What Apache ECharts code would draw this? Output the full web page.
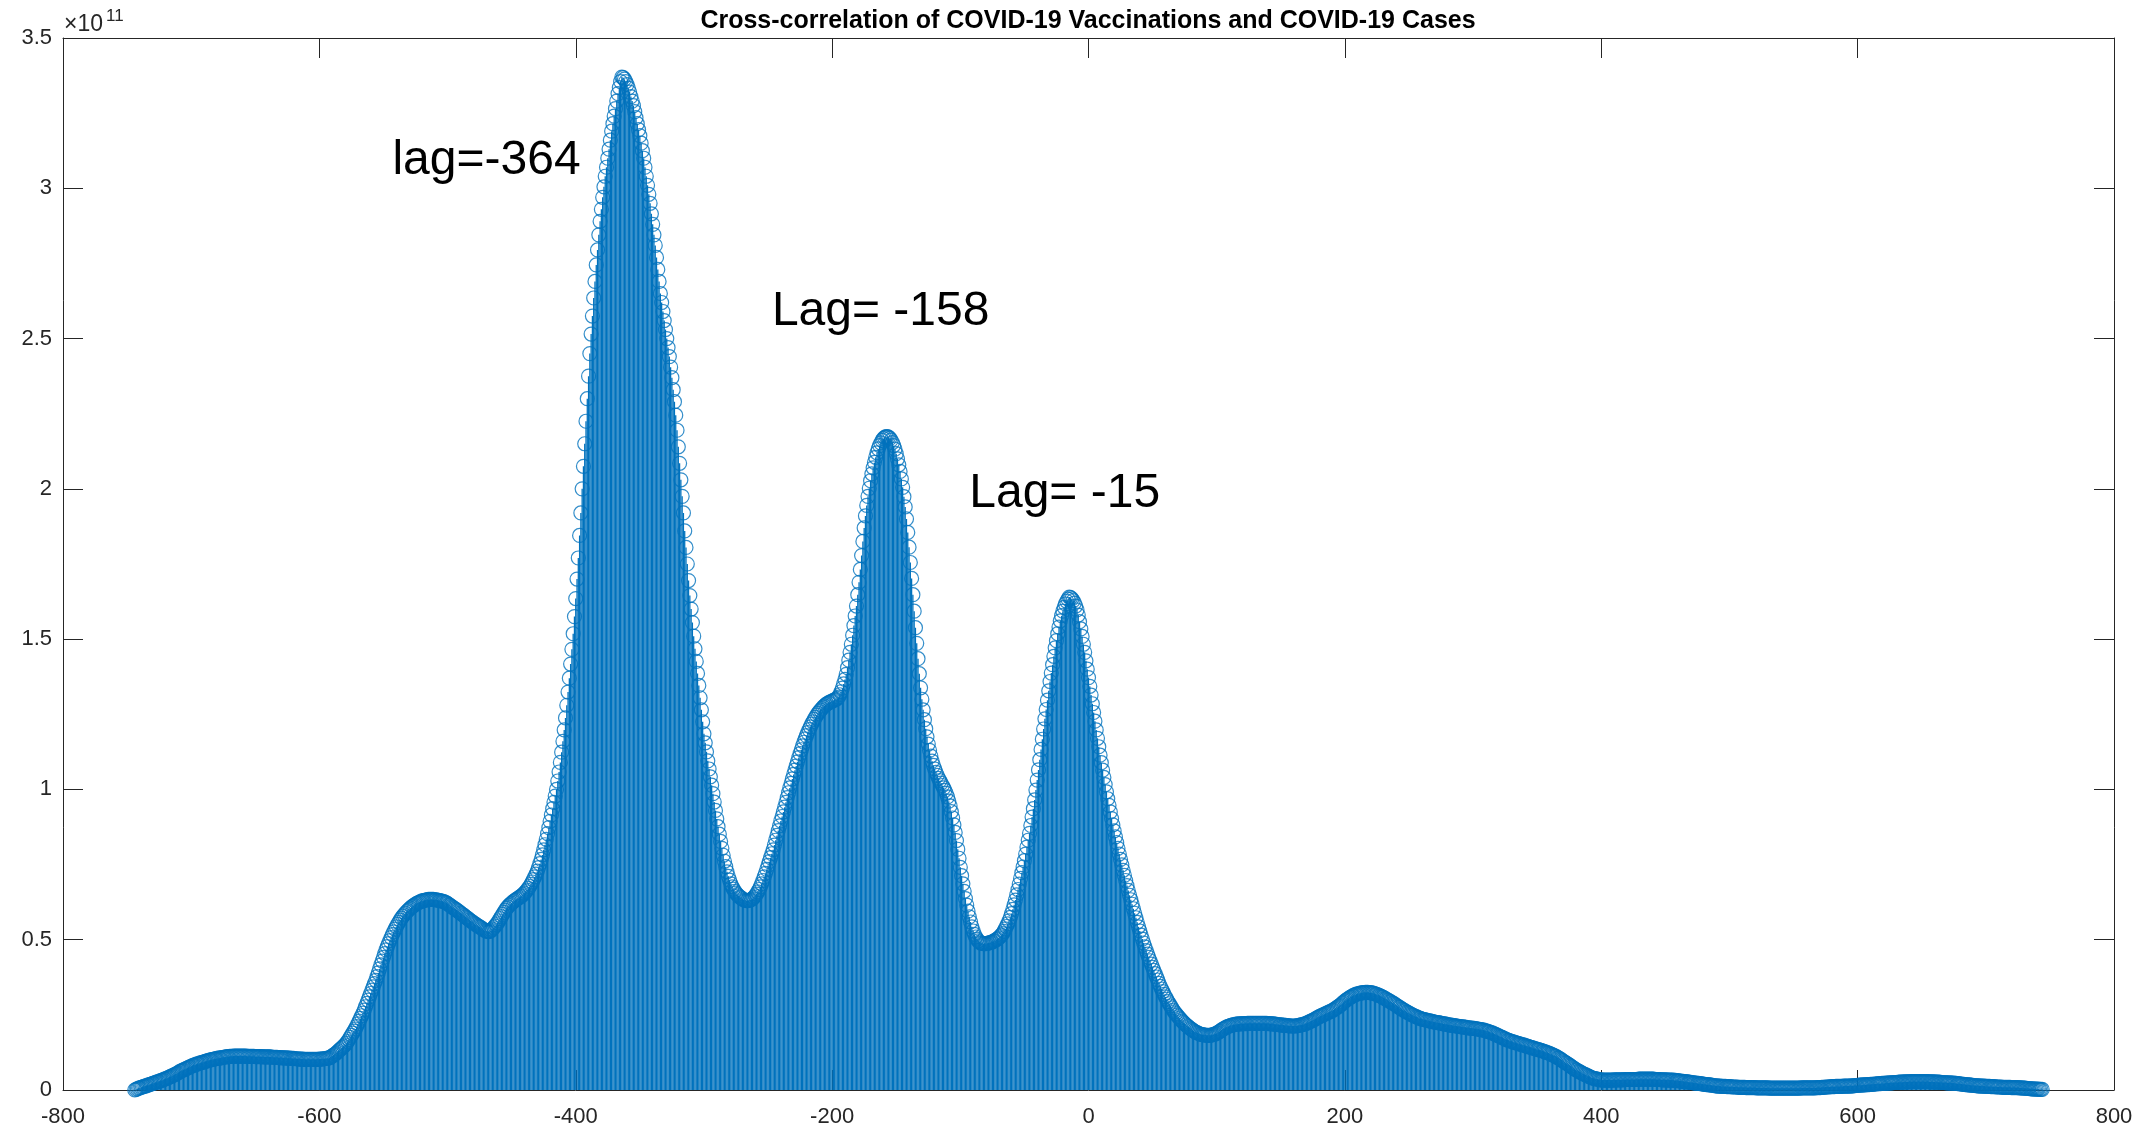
<!DOCTYPE html>
<html><head><meta charset="utf-8">
<script src="https://cdn.jsdelivr.net/npm/echarts@6/dist/echarts.min.js"></script>
<style>html,body{margin:0;padding:0;background:#fff}#c{width:2140px;height:1131px}</style>
</head><body><div id="c"></div>
<script>
// lag of the first value; one value per integer lag
const lagStart = -744;
// cross-correlation values, in units of 1e9
const xcorrE9 = [
0.0,0.2,0.4,0.6,0.7,0.9,1.0,1.2,1.3,1.4,
1.6,1.7,1.9,2.0,2.2,2.3,2.5,2.6,2.8,2.9,
3.1,3.2,3.4,3.6,3.7,3.9,4.1,4.3,4.5,4.7,
4.9,5.1,5.3,5.5,5.8,6.1,6.3,6.5,6.7,6.9,
7.1,7.3,7.5,7.7,7.9,8.1,8.3,8.4,8.6,8.7,
8.8,9.0,9.1,9.2,9.4,9.5,9.6,9.8,9.9,10.0,
10.1,10.2,10.3,10.4,10.5,10.6,10.6,10.7,10.8,10.9,
10.9,11.0,11.1,11.1,11.2,11.2,11.2,11.3,11.3,11.3,
11.3,11.3,11.3,11.3,11.3,11.3,11.3,11.3,11.2,11.2,
11.2,11.2,11.2,11.2,11.1,11.1,11.1,11.1,11.1,11.1,
11.0,11.0,11.0,11.0,11.0,11.0,11.0,10.9,10.9,10.9,
10.9,10.9,10.8,10.8,10.8,10.7,10.7,10.7,10.7,10.6,
10.6,10.6,10.5,10.5,10.5,10.4,10.4,10.4,10.3,10.3,
10.3,10.3,10.2,10.2,10.2,10.2,10.2,10.2,10.2,10.2,
10.2,10.2,10.2,10.2,10.3,10.3,10.3,10.4,10.4,10.5,
10.5,10.6,10.8,11.0,11.3,11.6,11.9,12.2,12.6,13.0,
13.4,13.8,14.2,14.6,15.0,15.5,16.1,16.8,17.5,18.2,
18.9,19.6,20.3,21.1,22.0,22.9,23.8,24.7,25.6,26.6,
27.7,28.8,29.9,31.0,32.1,33.2,34.3,35.4,36.5,37.7,
39.0,40.3,41.6,42.9,44.1,45.4,46.6,47.7,48.7,49.7,
50.7,51.7,52.6,53.5,54.3,55.1,55.8,56.5,57.2,57.8,
58.3,58.8,59.3,59.7,60.1,60.5,60.9,61.2,61.5,61.8,
62.1,62.3,62.5,62.7,62.9,63.0,63.1,63.2,63.3,63.4,
63.4,63.4,63.4,63.4,63.3,63.3,63.2,63.1,63.0,62.9,
62.8,62.7,62.5,62.3,62.0,61.7,61.4,61.1,60.8,60.5,
60.2,59.9,59.6,59.3,58.9,58.6,58.3,58.0,57.6,57.3,
57.0,56.6,56.3,56.0,55.7,55.4,55.1,54.8,54.5,54.3,
54.0,53.7,53.4,53.1,52.9,52.8,52.7,52.8,53.1,53.5,
54.0,54.5,55.0,55.6,56.3,57.0,57.7,58.4,59.1,59.8,
60.4,60.9,61.4,61.8,62.2,62.6,62.9,63.2,63.5,63.8,
64.1,64.4,64.7,65.1,65.5,66.0,66.5,67.1,67.7,68.4,
69.2,70.0,70.9,71.8,72.8,74.0,75.3,76.7,78.2,79.9,
81.6,83.4,85.3,87.3,89.4,91.5,93.6,95.7,97.8,100.0,
102.8,105.8,109.0,112.4,116.0,119.8,123.8,128.0,132.4,137.0,
141.7,146.6,151.8,157.5,163.5,170.0,177.0,184.5,192.0,200.0,
207.5,215.0,222.5,230.0,237.5,245.0,251.5,257.5,263.5,269.0,
274.5,279.5,284.5,289.0,293.0,297.0,300.5,304.0,307.0,310.0,
313.0,316.0,319.0,321.5,324.0,326.5,329.0,331.5,333.5,335.5,
337.0,336.8,336.3,335.5,334.5,333.3,332.0,330.5,329.0,327.5,
325.5,323.5,321.5,319.5,317.5,315.0,312.5,310.0,307.0,304.0,
301.0,298.0,295.0,291.5,288.0,284.5,281.0,277.0,273.0,269.0,
265.0,262.0,259.0,256.0,253.0,250.0,247.0,244.0,240.5,237.0,
233.0,229.0,224.5,219.5,214.0,208.5,203.0,197.5,192.0,186.0,
180.5,175.0,169.5,164.5,160.0,155.5,151.0,146.8,142.6,138.6,
134.6,130.5,126.5,122.5,118.5,115.5,112.5,109.5,106.8,104.2,
101.4,98.6,95.8,93.0,90.2,87.6,85.1,82.7,80.4,78.1,
76.1,74.3,72.6,71.1,69.8,68.6,67.6,66.8,66.1,65.5,
65.0,64.6,64.2,63.9,63.6,63.3,63.1,63.0,63.0,63.1,
63.2,63.4,63.7,64.1,64.6,65.2,65.9,66.7,67.6,68.6,
69.7,70.9,72.1,73.4,74.7,76.0,77.3,78.6,79.9,81.5,
83.1,84.7,86.3,87.9,89.5,91.0,92.5,94.1,95.7,97.3,
98.9,100.5,102.0,103.5,105.0,106.4,107.8,109.2,110.6,111.9,
113.2,114.5,115.7,116.8,117.9,118.9,119.9,120.8,121.7,122.5,
123.3,124.0,124.7,125.3,125.9,126.4,126.9,127.4,127.8,128.2,
128.5,128.8,129.0,129.2,129.4,129.6,129.8,130.0,130.3,130.7,
131.5,132.5,133.7,135.1,136.6,138.3,140.5,143.0,145.6,148.3,
151.3,154.5,157.7,161.0,164.8,168.9,173.2,177.8,182.5,187.0,
191.0,194.5,197.5,200.2,202.7,205.0,207.0,208.8,210.5,212.0,
213.3,214.4,215.3,216.1,216.7,217.1,217.4,217.4,217.2,216.8,
216.2,215.4,214.4,213.2,211.7,210.0,208.0,205.8,203.3,200.5,
197.4,194.0,190.0,185.5,180.6,175.5,170.2,164.8,159.3,153.8,
148.6,143.5,138.5,133.8,130.0,126.5,123.2,120.2,117.5,115.1,
113.0,111.1,109.4,108.0,106.8,105.7,104.7,103.7,102.9,102.1,
101.3,100.5,99.7,98.7,97.5,96.1,94.5,92.6,90.5,88.2,
85.7,83.0,80.1,77.1,74.1,71.3,68.6,66.1,63.7,61.5,
59.5,57.6,55.9,54.3,52.9,51.8,50.9,50.2,49.6,49.2,
48.9,48.8,48.7,48.7,48.7,48.8,48.9,49.0,49.1,49.3,
49.5,49.7,50.0,50.3,50.6,51.0,51.5,52.0,52.8,53.6,
54.4,55.3,56.3,57.4,58.7,60.1,61.6,63.2,64.9,66.7,
68.5,70.4,72.3,74.2,76.3,78.5,80.8,83.1,85.4,88.0,
90.8,93.6,96.5,99.8,103.1,106.5,109.9,113.3,116.7,120.1,
123.5,126.6,129.7,132.8,135.9,138.7,141.5,144.3,147.1,149.5,
151.8,154.0,156.1,157.8,159.3,160.6,161.7,162.6,163.3,164.0,
163.8,163.4,162.8,162.0,161.0,159.7,158.0,155.8,153.4,150.9,
148.3,145.6,142.8,140.0,137.2,134.3,131.4,128.5,125.6,122.7,
119.8,117.0,114.2,111.4,108.9,106.4,104.0,101.6,99.2,96.9,
94.7,92.5,90.3,88.2,86.2,84.2,82.3,80.4,78.5,76.7,
74.9,73.1,71.4,69.7,68.0,66.4,64.8,63.3,61.8,60.3,
58.8,57.3,55.8,54.3,52.9,51.5,50.2,48.9,47.6,46.4,
45.2,44.1,43.0,41.9,40.8,39.8,38.7,37.6,36.6,35.5,
34.5,33.6,32.7,31.8,31.0,30.2,29.4,28.7,28.0,27.3,
26.6,26.0,25.4,24.9,24.4,23.9,23.4,22.9,22.5,22.1,
21.7,21.3,21.0,20.6,20.3,20.0,19.7,19.4,19.2,19.0,
18.8,18.6,18.5,18.4,18.3,18.3,18.2,18.2,18.2,18.2,
18.3,18.4,18.5,18.7,18.9,19.1,19.4,19.7,20.0,20.3,
20.5,20.8,21.0,21.2,21.3,21.5,21.6,21.7,21.8,21.9,
21.9,22.0,22.0,22.0,22.1,22.1,22.1,22.1,22.2,22.2,
22.2,22.2,22.2,22.2,22.2,22.2,22.2,22.2,22.2,22.2,
22.2,22.2,22.2,22.2,22.1,22.1,22.1,22.0,22.0,21.9,
21.9,21.8,21.8,21.7,21.7,21.6,21.6,21.5,21.5,21.4,
21.4,21.3,21.3,21.3,21.3,21.3,21.3,21.4,21.5,21.6,
21.7,21.8,21.9,22.0,22.2,22.4,22.6,22.8,23.0,23.2,
23.4,23.7,23.9,24.2,24.4,24.6,24.8,25.0,25.2,25.4,
25.6,25.8,26.0,26.2,26.4,26.6,26.9,27.2,27.5,27.8,
28.1,28.4,28.8,29.2,29.6,29.9,30.2,30.5,30.8,31.0,
31.3,31.5,31.7,31.9,32.0,32.1,32.2,32.3,32.4,32.4,
32.5,32.5,32.5,32.4,32.4,32.3,32.2,32.1,31.9,31.8,
31.6,31.4,31.2,31.0,30.8,30.5,30.3,30.0,29.8,29.5,
29.3,29.0,28.8,28.5,28.2,27.9,27.6,27.4,27.1,26.8,
26.5,26.3,26.0,25.8,25.6,25.3,25.1,24.9,24.7,24.5,
24.3,24.1,23.9,23.8,23.6,23.5,23.4,23.3,23.2,23.1,
23.0,22.9,22.8,22.7,22.6,22.5,22.4,22.4,22.3,22.2,
22.1,22.0,22.0,21.9,21.8,21.7,21.6,21.6,21.5,21.4,
21.4,21.3,21.2,21.2,21.1,21.0,21.0,20.9,20.9,20.8,
20.7,20.7,20.6,20.6,20.5,20.5,20.4,20.3,20.3,20.2,
20.1,20.0,20.0,19.8,19.7,19.6,19.4,19.3,19.1,19.0,
18.8,18.6,18.4,18.2,18.0,17.8,17.6,17.4,17.2,17.0,
16.8,16.6,16.5,16.3,16.2,16.0,15.9,15.8,15.6,15.5,
15.4,15.2,15.1,15.0,14.9,14.7,14.6,14.5,14.3,14.2,
14.1,13.9,13.8,13.7,13.5,13.4,13.3,13.2,13.0,12.9,
12.7,12.6,12.4,12.3,12.1,11.9,11.7,11.5,11.3,11.1,
10.8,10.6,10.3,10.0,9.7,9.4,9.1,8.9,8.6,8.3,
8.0,7.7,7.4,7.1,6.8,6.6,6.3,6.1,5.9,5.6,
5.4,5.2,5.0,4.8,4.6,4.4,4.2,4.0,3.9,3.8,
3.7,3.6,3.5,3.4,3.4,3.3,3.3,3.3,3.3,3.3,
3.3,3.3,3.3,3.3,3.4,3.4,3.4,3.4,3.4,3.4,
3.4,3.4,3.5,3.5,3.5,3.5,3.5,3.5,3.5,3.5,
3.5,3.5,3.5,3.6,3.6,3.6,3.6,3.6,3.6,3.6,
3.6,3.6,3.6,3.6,3.6,3.6,3.5,3.5,3.5,3.5,
3.5,3.4,3.4,3.4,3.4,3.4,3.3,3.3,3.3,3.3,
3.3,3.2,3.2,3.1,3.1,3.0,3.0,2.9,2.9,2.8,
2.8,2.7,2.6,2.6,2.5,2.5,2.4,2.3,2.3,2.2,
2.2,2.1,2.1,2.0,1.9,1.9,1.8,1.8,1.7,1.7,
1.6,1.5,1.5,1.4,1.4,1.3,1.3,1.3,1.2,1.2,
1.2,1.2,1.1,1.1,1.1,1.1,1.0,1.0,1.0,1.0,
1.0,0.9,0.9,0.9,0.9,0.9,0.9,0.8,0.8,0.8,
0.8,0.8,0.8,0.8,0.8,0.7,0.7,0.7,0.7,0.7,
0.7,0.7,0.7,0.7,0.7,0.6,0.6,0.6,0.6,0.6,
0.6,0.6,0.6,0.6,0.6,0.6,0.6,0.6,0.6,0.6,
0.6,0.6,0.6,0.6,0.6,0.6,0.6,0.6,0.6,0.6,
0.7,0.7,0.7,0.7,0.7,0.7,0.7,0.7,0.7,0.7,
0.7,0.7,0.8,0.8,0.8,0.8,0.9,0.9,0.9,1.0,
1.0,1.0,1.0,1.1,1.1,1.1,1.1,1.2,1.2,1.2,
1.2,1.2,1.2,1.3,1.3,1.3,1.3,1.3,1.3,1.4,
1.4,1.4,1.5,1.5,1.5,1.6,1.6,1.6,1.7,1.7,
1.7,1.8,1.8,1.8,1.9,1.9,1.9,2.0,2.0,2.0,
2.1,2.1,2.1,2.2,2.2,2.2,2.3,2.3,2.3,2.4,
2.4,2.4,2.5,2.5,2.5,2.5,2.6,2.6,2.6,2.6,
2.7,2.7,2.7,2.7,2.7,2.8,2.8,2.8,2.8,2.8,
2.8,2.8,2.8,2.8,2.8,2.8,2.8,2.8,2.8,2.8,
2.7,2.7,2.7,2.7,2.7,2.6,2.6,2.6,2.6,2.5,
2.5,2.5,2.5,2.4,2.4,2.4,2.4,2.3,2.3,2.3,
2.2,2.2,2.1,2.1,2.0,2.0,1.9,1.9,1.8,1.8,
1.7,1.7,1.6,1.6,1.5,1.5,1.5,1.4,1.4,1.4,
1.3,1.3,1.3,1.3,1.2,1.2,1.2,1.2,1.1,1.1,
1.1,1.1,1.0,1.0,1.0,1.0,1.0,0.9,0.9,0.9,
0.9,0.9,0.9,0.9,0.8,0.8,0.8,0.8,0.8,0.8,
0.7,0.7,0.7,0.6,0.6,0.6,0.5,0.5,0.5,0.4,
0.4,0.4,0.3,0.3,0.3,0.3,0.2,0.2,0.2
];
const xTicks = [-800, -600, -400, -200, 0, 200, 400, 600, 800];
const yTicks = [0, 0.5, 1, 1.5, 2, 2.5, 3, 3.5];
const yExponent = '11';
const titleText = 'Cross-correlation of COVID-19 Vaccinations and COVID-19 Cases';
const noteTexts = ['lag=-364', 'Lag= -158', 'Lag= -15'];
const noteLags = [-543, -247, -93];
const noteYs = [3.09, 2.59, 1.985];

// build points: y in units of 1e11 (axis shows x10^11)
const points = xcorrE9.map((v, i) => [lagStart + i, v / 100]);

const FONT = '"Liberation Sans", Arial, Helvetica, sans-serif';
const AX = '#262626';
const BLUE = '#0072BD';

const chart = echarts.init(document.getElementById('c'), null, {renderer: 'canvas', width: 2140, height: 1131});

function axisCommon(extra) {
  return Object.assign({
    type: 'value',
    axisLine: {show: true, onZero: false, lineStyle: {color: AX, width: 1}},
    axisTick: {show: true, inside: true, length: 20, lineStyle: {color: AX, width: 1}},
    splitLine: {show: false}
  }, extra);
}

const option = {
  animation: false,
  backgroundColor: '#fff',
  grid: {left: 63, right: 26, top: 38, bottom: 41, containLabel: false},
  xAxis: [
    axisCommon({min: xTicks[0], max: xTicks[xTicks.length - 1], interval: xTicks[1] - xTicks[0], position: 'bottom',
      axisLabel: {color: AX, fontSize: 22, fontFamily: FONT, margin: 16, showMinLabel: true, showMaxLabel: true}}),
    axisCommon({min: xTicks[0], max: xTicks[xTicks.length - 1], interval: xTicks[1] - xTicks[0], position: 'top',
      axisLabel: {show: false}})
  ],
  yAxis: [
    axisCommon({min: yTicks[0], max: yTicks[yTicks.length - 1], interval: yTicks[1] - yTicks[0], position: 'left',
      axisLabel: {color: AX, fontSize: 22, fontFamily: FONT, margin: 11, showMinLabel: true, showMaxLabel: true}}),
    axisCommon({min: yTicks[0], max: yTicks[yTicks.length - 1], interval: yTicks[1] - yTicks[0], position: 'right',
      axisLabel: {show: false}})
  ],
  series: [
    {
      type: 'custom',
      xAxisIndex: 0, yAxisIndex: 0,
      data: points,
      encode: {x: 0, y: 1},
      z: 2,
      silent: true,
      renderItem: function (params, api) {
        const x = api.value(0), y = api.value(1);
        const p0 = api.coord([x, 0]);
        const p1 = api.coord([x, y]);
        return {type: 'line', shape: {x1: p0[0], y1: p0[1], x2: p1[0], y2: p1[1]},
          style: {stroke: BLUE, lineWidth: 1.3}};
      }
    },
    {
      type: 'scatter',
      xAxisIndex: 0, yAxisIndex: 0,
      data: points,
      symbol: 'circle',
      symbolSize: 14,
      itemStyle: {color: 'rgba(0,0,0,0)', borderColor: BLUE, borderWidth: 1.2},
      z: 3,
      silent: true
    }
  ]
};
chart.setOption(option);

function buildGraphics() {
  const g = [];
  g.push({type: 'text', x: 1088, y: 21, style: {text: titleText, fill: '#000', font: 'bold 25px ' + FONT,
    textAlign: 'center', textVerticalAlign: 'middle'}});
  g.push({type: 'text', x: 64, y: 25, style: {text: '\u00d710', fill: AX, font: '23px ' + FONT,
    textAlign: 'left', textVerticalAlign: 'middle'}});
  g.push({type: 'text', x: 106, y: 16, style: {text: yExponent, fill: AX, font: '17px ' + FONT,
    textAlign: 'left', textVerticalAlign: 'middle'}});
  noteTexts.forEach((t, i) => {
    const p = chart.convertToPixel({xAxisIndex: 0, yAxisIndex: 0}, [noteLags[i], noteYs[i]]);
    g.push({type: 'text', x: p[0], y: p[1], style: {text: t, fill: '#000', font: '48px ' + FONT,
      textAlign: 'left', textVerticalAlign: 'middle'}});
  });
  return g;
}
chart.setOption({graphic: buildGraphics()});
</script>
</body></html>
